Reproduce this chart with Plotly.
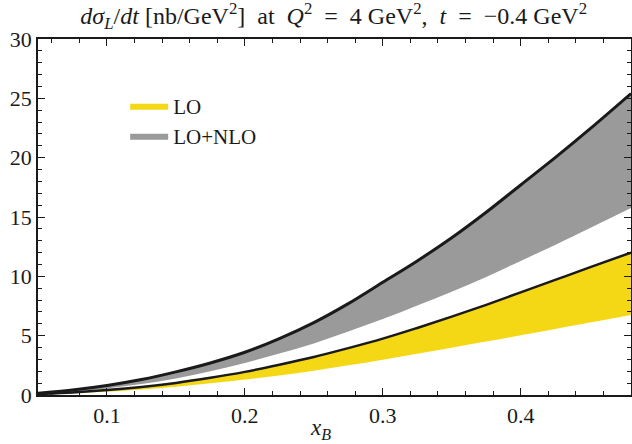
import plotly.graph_objects as go

xb = [0.05, 0.075, 0.1, 0.125, 0.15, 0.175, 0.2, 0.225, 0.25, 0.275, 0.3, 0.325, 0.35, 0.375, 0.4, 0.425, 0.45, 0.48]

nlo_upper = [0.15, 0.42, 0.8, 1.3, 1.95, 2.7, 3.6, 4.75, 6.1, 7.7, 9.5, 11.3, 13.25, 15.4, 17.7, 20.0, 22.4, 25.4]
nlo_lower = [0.10, 0.28, 0.55, 0.92, 1.4, 2.0, 2.7, 3.5, 4.35, 5.35, 6.4, 7.55, 8.7, 9.95, 11.3, 12.65, 14.05, 15.75]
lo_upper  = [0.08, 0.22, 0.42, 0.68, 1.02, 1.45, 1.95, 2.55, 3.2, 3.95, 4.75, 5.65, 6.6, 7.6, 8.65, 9.7, 10.75, 12.0]
lo_lower  = [0.05, 0.14, 0.27, 0.46, 0.7, 0.98, 1.3, 1.65, 2.05, 2.5, 2.98, 3.47, 3.98, 4.5, 5.03, 5.56, 6.1, 6.74]

YELLOW = "#f4d816"
GRAY = "#9a9a9a"
INK = "#1a1a1a"
FONT = "Liberation Serif"

fig = go.Figure()
fig.add_trace(go.Scatter(x=xb, y=nlo_lower, mode="lines", line=dict(width=0, color=GRAY, shape="spline"),
                         showlegend=False, hoverinfo="skip"))
fig.add_trace(go.Scatter(x=xb, y=nlo_upper, mode="lines", line=dict(width=0, color=GRAY, shape="spline"),
                         fill="tonexty", fillcolor=GRAY, name="LO+NLO", legend="legend2"))
fig.add_trace(go.Scatter(x=xb, y=lo_lower, mode="lines", line=dict(width=0, color=YELLOW, shape="spline"),
                         showlegend=False, hoverinfo="skip"))
fig.add_trace(go.Scatter(x=xb, y=lo_upper, mode="lines", line=dict(width=0, color=YELLOW, shape="spline"),
                         fill="tonexty", fillcolor=YELLOW, name="LO", legend="legend"))
fig.add_trace(go.Scatter(x=xb, y=nlo_upper, mode="lines", line=dict(width=3, color=INK, shape="spline"),
                         showlegend=False))
fig.add_trace(go.Scatter(x=xb, y=lo_upper, mode="lines", line=dict(width=2.5, color=INK, shape="spline"),
                         showlegend=False))

axis_common = dict(
    showgrid=False, zeroline=False, showline=True, linecolor=INK, linewidth=1.5,
    mirror="allticks", ticks="inside", ticklen=7, tickwidth=1.3, tickcolor=INK,
    tickfont=dict(family=FONT, size=22, color=INK), automargin=False,
)

fig.update_xaxes(range=[0.05, 0.48], dtick=0.1, tick0=0, tickformat=".1f",
                 minor=dict(dtick=0.02, tick0=0, ticks="inside", ticklen=4, tickcolor=INK, tickwidth=1.1),
                 **axis_common)
fig.update_yaxes(range=[0, 30], dtick=5, tick0=0,
                 minor=dict(dtick=1, tick0=0, ticks="inside", ticklen=4, tickcolor=INK, tickwidth=1.1),
                 **axis_common)

fig.add_annotation(text="<i>x<sub>B</sub></i>", xref="paper", yref="paper",
                   x=0.476, y=-0.095, xanchor="center", yanchor="middle", showarrow=False,
                   font=dict(family=FONT, size=23, color=INK))

legend_common = dict(xanchor="left", yanchor="middle", bgcolor="rgba(0,0,0,0)",
                     font=dict(family=FONT, size=21, color=INK), itemwidth=38)

fig.update_layout(
    width=632, height=444,
    margin=dict(l=38, r=1, t=39, b=49),
    paper_bgcolor="white", plot_bgcolor="white",
    title=dict(text="<i>dσ<sub>L</sub></i>/<i>dt</i> [nb/GeV<sup>2</sup>]  at  <i>Q</i><sup>2</sup>  =  4 GeV<sup>2</sup>,  <i>t</i>  =  −0.4 GeV<sup>2</sup>",
               x=0.528, xanchor="center", y=0.965, yanchor="middle",
               font=dict(family=FONT, size=24, color=INK)),
    legend=dict(x=0.147, y=(395 - 106) / 356, **legend_common),
    legend2=dict(x=0.147, y=(395 - 136) / 356, **legend_common),
    showlegend=True,
)

fig.write_html("out.html", config={"displayModeBar": False},
               post_script="document.body.style.margin='0px';document.body.style.overflow='hidden';")
